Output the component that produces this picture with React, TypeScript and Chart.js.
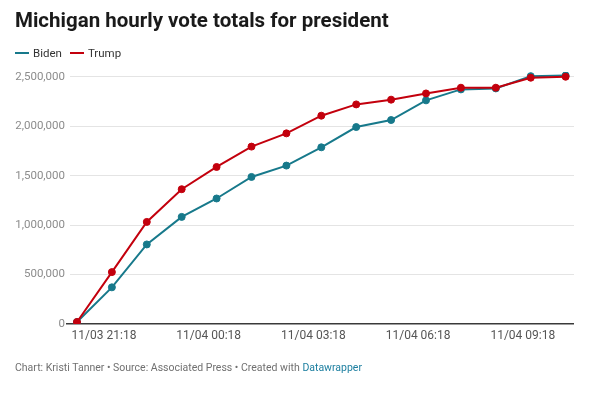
import React, { useEffect, useRef } from "react";
import { Chart, registerables } from "chart.js";
Chart.register(...registerables);

const times = [
  "11/03 21:18", "11/03 22:18", "11/03 23:18", "11/04 00:18", "11/04 01:18",
  "11/04 02:18", "11/04 03:18", "11/04 04:18", "11/04 05:18", "11/04 06:18",
  "11/04 07:18", "11/04 08:18", "11/04 09:18", "11/04 10:18", "11/04 11:18",
];
const biden = [20000, 371000, 805000, 1084000, 1270000, 1488000, 1603000, 1788000, 1993000, 2064000, 2263000, 2374000, 2384000, 2508000, 2515000];
const trump = [20000, 525000, 1033000, 1364000, 1589000, 1795000, 1929000, 2108000, 2222000, 2270000, 2333000, 2391000, 2391000, 2492000, 2502000];
const yTicks = [0, 500000, 1000000, 1500000, 2000000, 2500000];
const xTickIndices = [0, 3, 6, 9, 12];

const BIDEN = "#17798b";
const TRUMP = "#c3000d";

export default function App() {
  const ref = useRef<HTMLCanvasElement | null>(null);

  useEffect(() => {
    if (!ref.current) return;
    const chart = new Chart(ref.current, {
      type: "line",
      data: {
        datasets: [
          {
            label: "Trump",
            data: trump.map((v, i) => ({ x: i, y: v })),
            borderColor: TRUMP,
            backgroundColor: TRUMP,
            pointBackgroundColor: TRUMP,
            pointBorderColor: TRUMP,
            borderWidth: 2,
            pointRadius: 3.5,
            pointBorderWidth: 1,
            tension: 0,
            order: 0,
          },
          {
            label: "Biden",
            data: biden.map((v, i) => ({ x: i, y: v })),
            borderColor: BIDEN,
            backgroundColor: BIDEN,
            pointBackgroundColor: BIDEN,
            pointBorderColor: BIDEN,
            borderWidth: 2,
            pointRadius: 3.5,
            pointBorderWidth: 1,
            tension: 0,
            order: 1,
          },
        ],
      },
      options: {
        animation: false,
        responsive: true,
        maintainAspectRatio: false,
        layout: { padding: { top: 72, right: 26, left: 0, bottom: 0 } },
        plugins: { legend: { display: false }, tooltip: { enabled: false }, title: { display: false } },
        scales: {
          x: {
            type: "linear",
            min: -0.2,
            max: 14.24,
            afterBuildTicks: (axis: any) => {
              axis.ticks = xTickIndices.map((v) => ({ value: v }));
            },
            afterFit: (axis: any) => {
              axis.height = 70;
            },
            grid: { display: false, drawTicks: false },
            border: { display: false },
            ticks: {
              autoSkip: false,
              maxRotation: 0,
              padding: 5,
              labelOffset: 27,
              color: "#555555",
              font: { family: "Roboto", size: 12 },
              callback: (v: any) => times[v as number] ?? "",
            },
          },
          y: {
            type: "linear",
            min: 0,
            max: 2550000,
            afterBuildTicks: (axis: any) => {
              axis.ticks = yTicks.map((v) => ({ value: v }));
            },
            afterFit: (axis: any) => {
              axis.width = 70;
            },
            border: { display: false },
            grid: {
              drawTicks: true,
              tickLength: 4,
              color: (ctx: any) => (ctx.tick && ctx.tick.value === 0 ? "#3a3a3a" : "#e4e4e4"),
              tickColor: (ctx: any) => (ctx.tick && ctx.tick.value === 0 ? "#3a3a3a" : "rgba(0,0,0,0)"),
              lineWidth: (ctx: any) => (ctx.tick && ctx.tick.value === 0 ? 1.5 : 1),
            },
            ticks: {
              padding: 1,
              color: "#8c8c8c",
              font: { family: "Roboto", size: 11.5 },
              callback: (v: any) => Number(v).toLocaleString("en-US"),
            },
          },
        },
      },
    });
    return () => chart.destroy();
  }, []);

  return (
    <div
      style={{
        position: "absolute",
        left: 0,
        top: 0,
        width: 600,
        height: 394,
        background: "#ffffff",
        fontFamily: "Roboto, sans-serif",
        overflow: "hidden",
      }}
    >
      <div style={{ position: "absolute", left: 0, top: 0, width: 600, height: 394 }}>
        <canvas ref={ref} />
      </div>
      <div
        style={{
          position: "absolute",
          left: 15,
          top: 8,
          fontSize: 20.5,
          fontWeight: 700,
          color: "#1a1a1a",
          whiteSpace: "nowrap",
        }}
      >
        Michigan hourly vote totals for president
      </div>
      <div
        style={{
          position: "absolute",
          left: 15,
          top: 46,
          fontSize: 11.5,
          color: "#333333",
          display: "flex",
          alignItems: "center",
          whiteSpace: "nowrap",
        }}
      >
        <span style={{ display: "inline-block", width: 14, height: 2, background: BIDEN, marginRight: 4 }} />
        <span style={{ marginRight: 8 }}>Biden</span>
        <span style={{ display: "inline-block", width: 14, height: 2, background: TRUMP, marginRight: 4 }} />
        <span>Trump</span>
      </div>
      <div
        style={{
          position: "absolute",
          left: 15,
          top: 361,
          fontSize: 10.5,
          color: "#707070",
          whiteSpace: "nowrap",
        }}
      >
        Chart: Kristi Tanner • Source: Associated Press • Created with{" "}
        <span style={{ color: "#1d7fa0" }}>Datawrapper</span>
      </div>
    </div>
  );
}
